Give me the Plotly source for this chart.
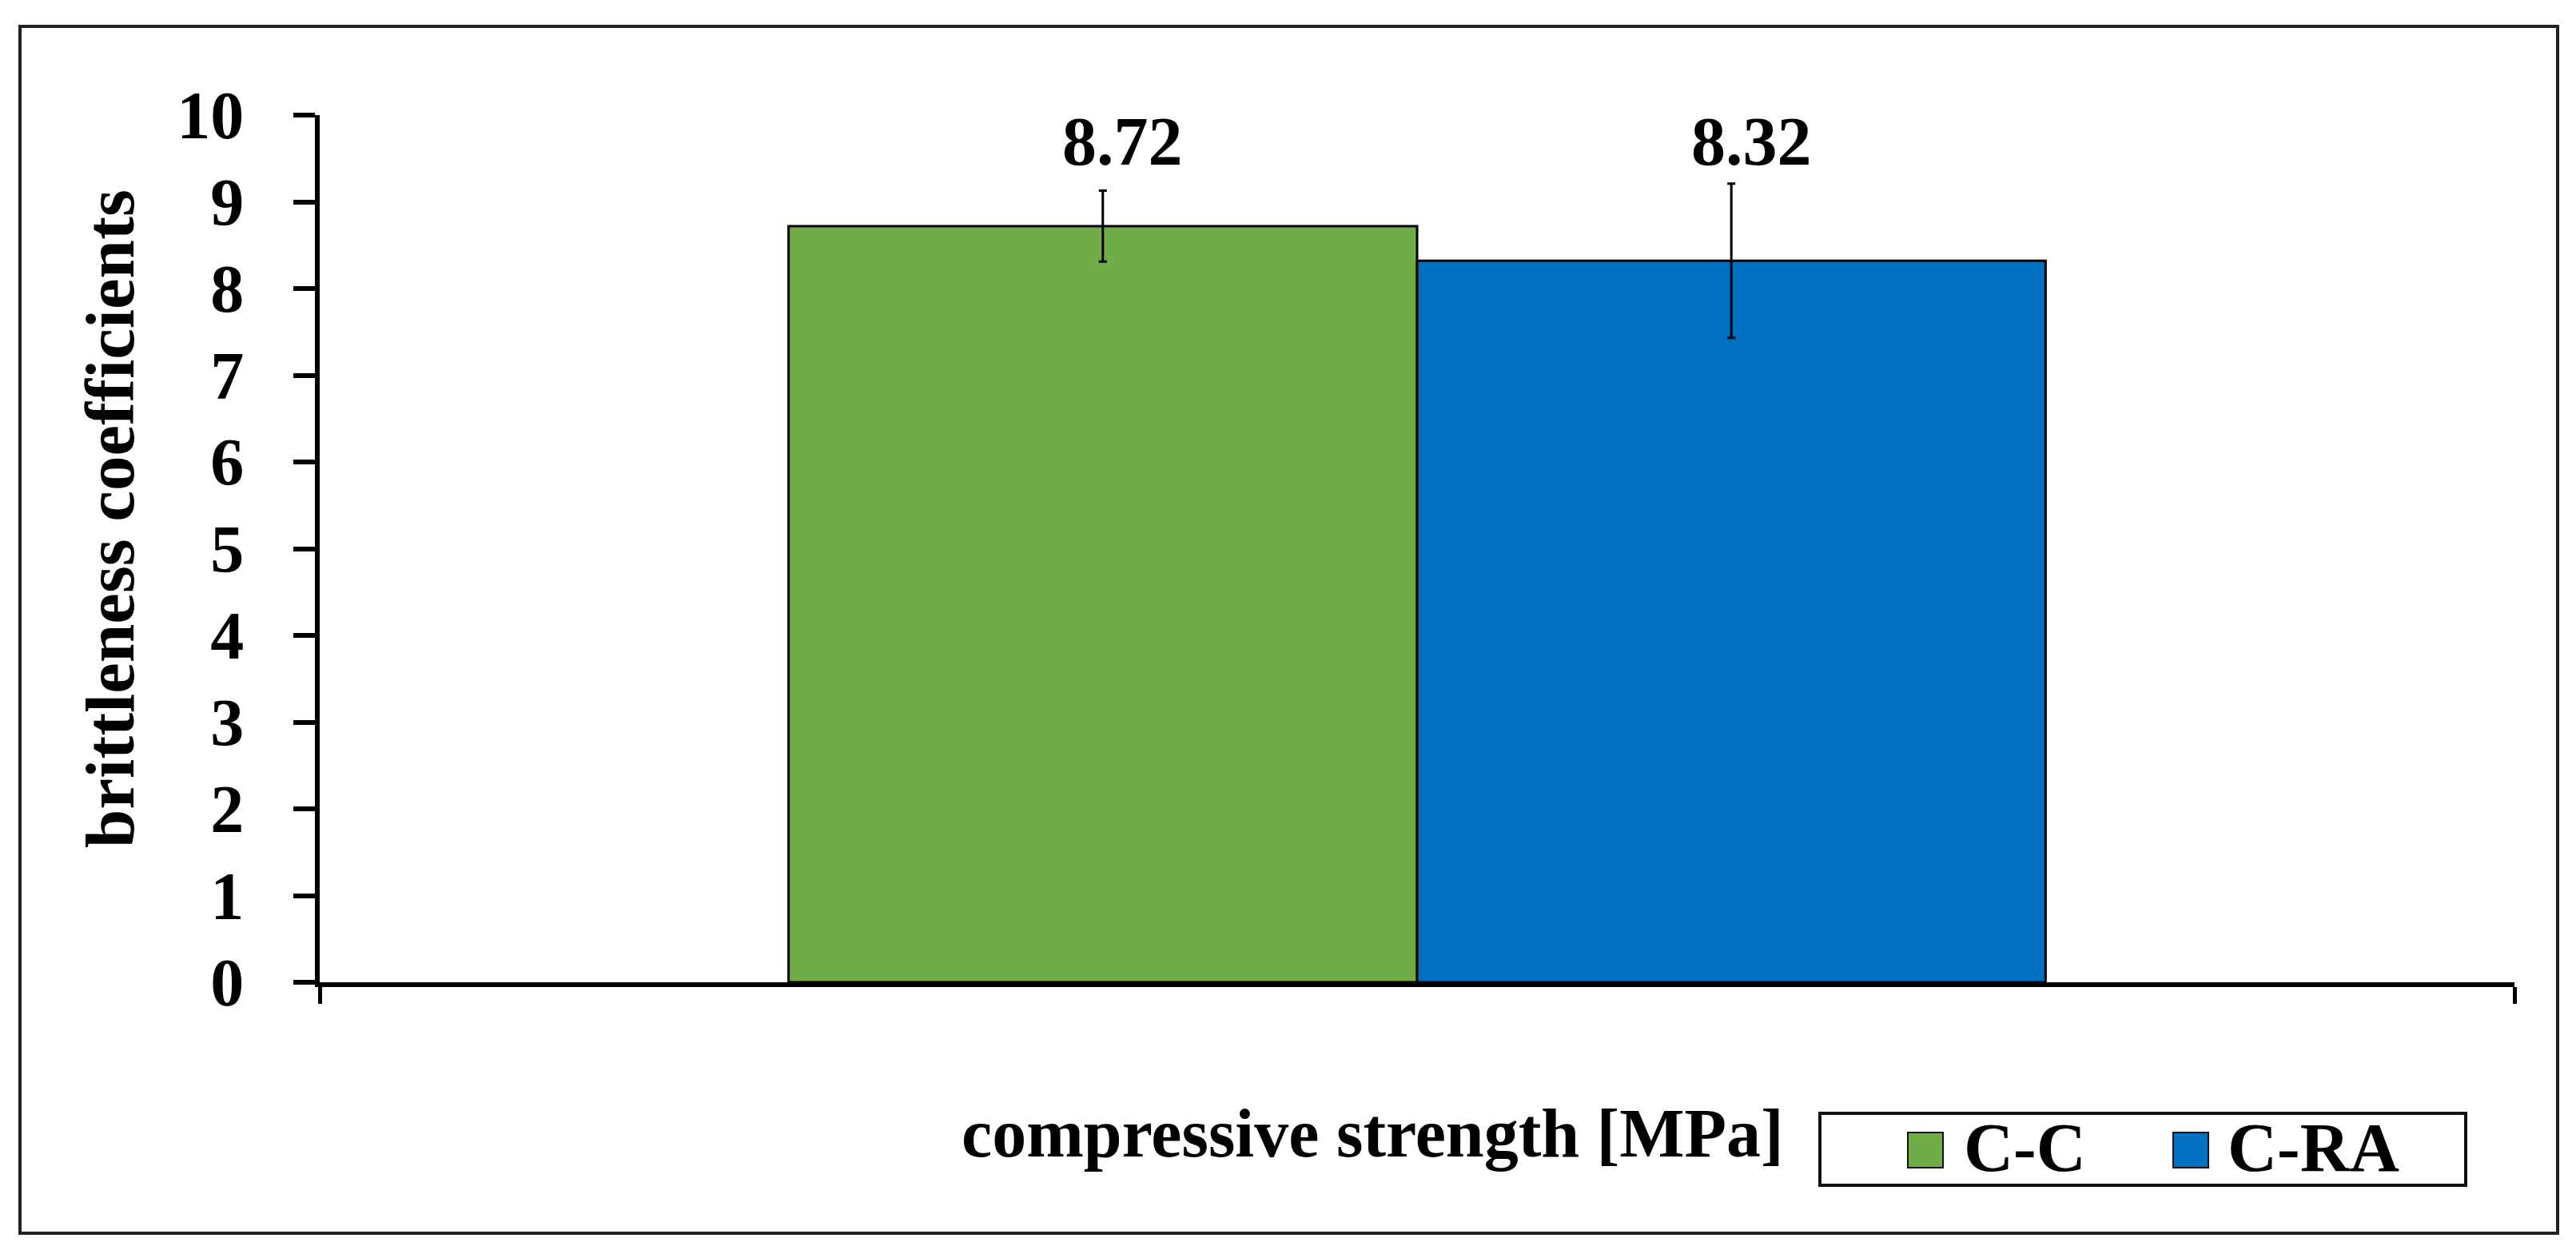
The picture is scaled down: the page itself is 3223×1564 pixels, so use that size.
import plotly.graph_objects as go

# ---- data ----
series_names = ["C-C", "C-RA"]
values = [8.72, 8.32]
errors = [0.41, 0.89]
value_labels = ["8.72", "8.32"]
bar_colors = ["#70AD47", "#0070C0"]
y_tickvals = [0, 1, 2, 3, 4, 5, 6, 7, 8, 9, 10]
y_title = "brittleness coefficients"
x_title = "compressive strength [MPa]"

# ---- layout geometry (pixels) ----
W, H = 3223, 1564
PL, PR, PT, PB = 392, 3138, 136, 1221  # plot area edges
FONT = "Liberation Serif, Times New Roman, serif"
X_RANGE = [-1.246, 2.246]


def xp(px):
    return (px - PL) / (PR - PL)


def yp(py):
    return (PB - py) / (PB - PT)


fig = go.Figure()
for i, name in enumerate(series_names):
    fig.add_trace(go.Bar(
        x=[i], y=[values[i]], name=name, width=1,
        marker=dict(color=bar_colors[i], line=dict(color="black", width=3)),
        error_y=dict(type="data", array=[errors[i]], visible=True,
                     color="black", thickness=3, width=5),
        showlegend=False,
    ))

annotations = []
# value labels
for i, lab in enumerate(value_labels):
    annotations.append(dict(x=i, y=9.7, xref="x", yref="y", text=lab,
                            showarrow=False, xanchor="center", yanchor="middle",
                            xshift=25,
                            font=dict(family=FONT, size=86, color="black", weight="bold")))
# axis titles
annotations.append(dict(x=xp(129), y=yp(641), xref="paper", yref="paper", text=y_title,
                        textangle=-90, showarrow=False, xanchor="center", yanchor="middle",
                        font=dict(family=FONT, size=87, color="black", weight="bold")))
annotations.append(dict(x=xp(1709), y=yp(1410), xref="paper", yref="paper", text=x_title,
                        showarrow=False, xanchor="center", yanchor="middle",
                        font=dict(family=FONT, size=86, color="black", weight="bold")))

shapes = []
# outer chart border
shapes.append(dict(type="rect", xref="paper", yref="paper",
                   x0=xp(17), x1=xp(3192), y0=yp(1535), y1=yp(25),
                   line=dict(color="#222222", width=4), fillcolor="rgba(0,0,0,0)", layer="below"))
# custom legend box
shapes.append(dict(type="rect", xref="paper", yref="paper",
                   x0=xp(2269), x1=xp(3077), y0=yp(1475), y1=yp(1385),
                   line=dict(color="#111111", width=4), fillcolor="white"))
legend_sq_x = [2379, 2711]
legend_txt_x = [2447, 2777]
for i, name in enumerate(series_names):
    shapes.append(dict(type="rect", xref="paper", yref="paper",
                       x0=xp(legend_sq_x[i]), x1=xp(legend_sq_x[i] + 44),
                       y0=yp(1453), y1=yp(1409),
                       line=dict(color="#111111", width=2), fillcolor=bar_colors[i]))
    annotations.append(dict(x=xp(legend_txt_x[i]), y=yp(1428), xref="paper", yref="paper",
                            text=name, showarrow=False, xanchor="left", yanchor="middle",
                            font=dict(family=FONT, size=86, color="black", weight="bold")))

fig.update_layout(
    width=W, height=H,
    margin=dict(l=PL, r=W - PR, t=PT, b=H - PB, pad=0),
    paper_bgcolor="white", plot_bgcolor="white",
    barmode="overlay",
    showlegend=False,
    annotations=annotations,
    shapes=shapes,
    xaxis=dict(range=X_RANGE, showgrid=False, zeroline=False,
               showline=True, linecolor="black", linewidth=6,
               ticks="outside", tickvals=X_RANGE, ticklen=21, tickwidth=5,
               tickcolor="black", showticklabels=False, fixedrange=True),
    yaxis=dict(range=[0, 10], showgrid=False, zeroline=False,
               showline=True, linecolor="black", linewidth=6,
               ticks="outside", tickvals=y_tickvals, ticklen=27, tickwidth=6,
               tickcolor="black", ticklabelstandoff=45,
               tickfont=dict(family=FONT, size=84, color="black", weight="bold"),
               fixedrange=True),
)

fig.write_html("out.html")
